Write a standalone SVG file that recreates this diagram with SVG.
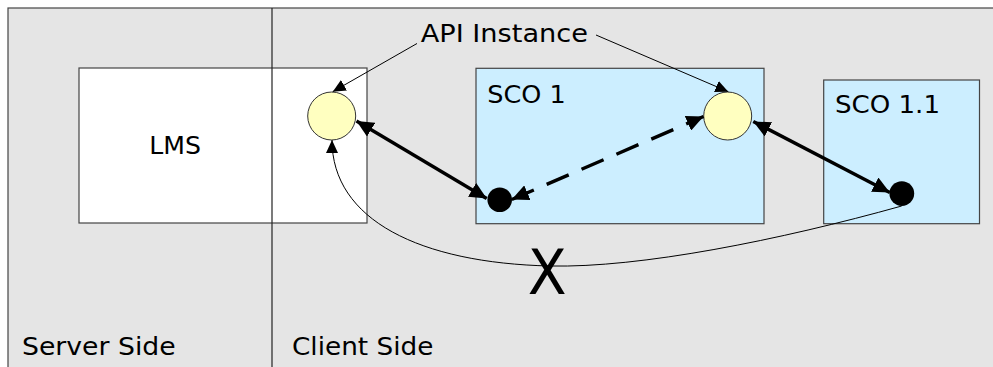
<svg xmlns="http://www.w3.org/2000/svg" width="993" height="367" viewBox="0 0 993 367">
<style>
text{font-family:"DejaVu Sans","Verdana",sans-serif;font-size:25.5px;fill:#000}
.box{stroke:#444;stroke-width:1.2}
.thin{fill:none;stroke:#000;stroke-width:1}
.thick{fill:none;stroke:#000;stroke-width:3.4}
.api{fill:#ffffc0;stroke:#333;stroke-width:1}
.dot{fill:#000}
</style>
<defs>
<marker id="ah" markerUnits="userSpaceOnUse" markerWidth="14" markerHeight="12" refX="13" refY="6" orient="auto" viewBox="0 0 14 12"><path d="M0,0 L13,6 L0,12 Z" fill="#000"/></marker>
<marker id="ahb" markerUnits="userSpaceOnUse" markerWidth="18" markerHeight="16" refX="17" refY="8" orient="auto-start-reverse" viewBox="0 0 18 16"><path d="M0,0 L17,8 L0,16 Z" fill="#000"/></marker>
</defs>
<g id="background">
<rect x="8" y="8" width="1000" height="380" fill="#e5e5e5" stroke="#444" stroke-width="1.2"/>
</g>
<g id="lms">
<rect class="box" x="79" y="68" width="288" height="155" fill="#fff"/>
<text x="149.3" y="154" textLength="51.7" lengthAdjust="spacingAndGlyphs">LMS</text>
</g>
<g id="divider">
<line x1="272" y1="8" x2="272" y2="367" stroke="#222" stroke-width="1.2"/>
</g>
<g id="sco1">
<rect class="box" x="476" y="68.3" width="288" height="155.4" fill="#cceeff"/>
<text x="487.3" y="102.7" textLength="78.4" lengthAdjust="spacingAndGlyphs">SCO 1</text>
</g>
<g id="sco11">
<rect class="box" x="823.7" y="80" width="155.8" height="143.7" fill="#cceeff"/>
<text x="835" y="113.3" textLength="105" lengthAdjust="spacingAndGlyphs">SCO 1.1</text>
</g>
<g id="api-label">
<text x="420.7" y="41.7" textLength="167.3" lengthAdjust="spacingAndGlyphs">API Instance</text>
</g>
<g id="api1"><circle class="api" cx="331.7" cy="116" r="24"/></g>
<g id="api2"><circle class="api" cx="727.7" cy="116" r="24"/></g>
<g id="dot1"><circle class="dot" cx="499.7" cy="199.7" r="12.3"/></g>
<g id="dot2"><circle class="dot" cx="901.8" cy="193.6" r="12.4"/></g>
<g id="connectors">
<path class="thin" d="M417,43.5 L332.7,91.7" marker-end="url(#ah)"/>
<path class="thin" d="M596,35 L728.3,91.7" marker-end="url(#ah)"/>
<path class="thin" d="M901.7,206 C780,240 640,268 550,266 C420,263 332,220 332,140" marker-end="url(#ah)"/>
<path class="thick" d="M356.5,121 L486.7,198.5" marker-start="url(#ahb)" marker-end="url(#ahb)"/>
<path class="thick" d="M753.3,121.5 L889.8,192.5" marker-start="url(#ahb)" marker-end="url(#ahb)"/>
<path class="thick" d="M511.8,199.5 L703.5,116.5" stroke-dasharray="24 14" stroke-width="3.8" marker-start="url(#ahb)" marker-end="url(#ahb)"/>
</g>
<g id="cross">
<text x="547.3" y="294" text-anchor="middle" style="font-size:63px" transform="translate(547.3 0) scale(0.9 1) translate(-547.3 0)">X</text>
</g>
<g id="side-labels">
<text x="22" y="354.5" textLength="153.7" lengthAdjust="spacingAndGlyphs">Server Side</text>
<text x="292" y="354.5" textLength="141.3" lengthAdjust="spacingAndGlyphs">Client Side</text>
</g>
</svg>
